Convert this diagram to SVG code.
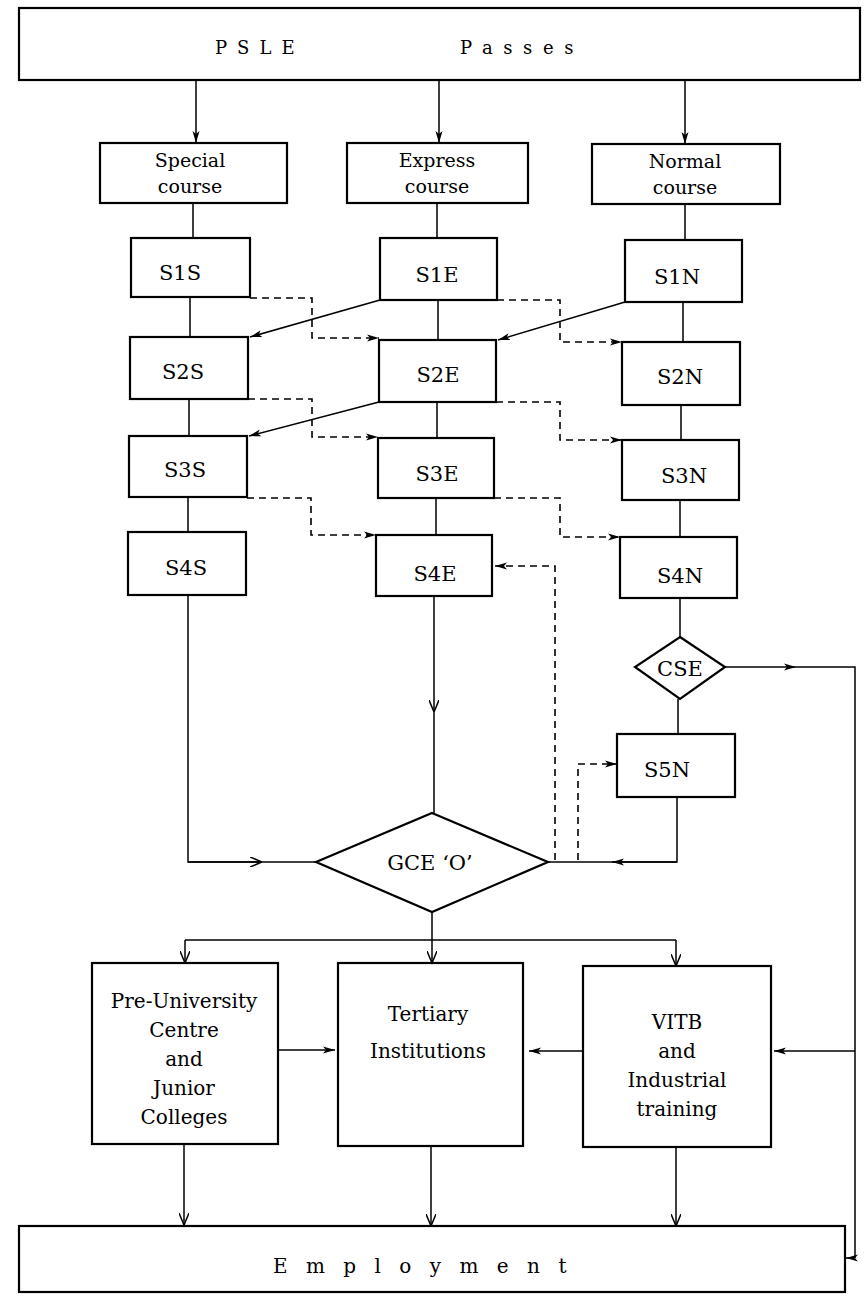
<svg xmlns="http://www.w3.org/2000/svg" width="865" height="1300" viewBox="0 0 865 1300">
<style>
.b{fill:#fff;stroke:#000;stroke-width:2.2}
.t{font-family:"DejaVu Serif","Liberation Serif",serif;font-size:20px;fill:#000;text-anchor:middle}
.s{font-size:21px}
.k{font-size:19px}
.c{fill:none;stroke:#000;stroke-width:1.5}
.d{fill:none;stroke:#000;stroke-width:1.6;stroke-dasharray:7,5}
</style>
<defs>
<marker id="a" viewBox="0 0 12 8" refX="12" refY="4" markerWidth="12" markerHeight="8" orient="auto" markerUnits="userSpaceOnUse"><path d="M0,0.5 L12,4 L0,7.5 L3,4 z" fill="#000"/></marker>
<marker id="v" viewBox="0 0 12 10" refX="12" refY="5" markerWidth="12" markerHeight="10" orient="auto" markerUnits="userSpaceOnUse"><path d="M0,0 L12,5 L0,10" fill="none" stroke="#000" stroke-width="1.5"/></marker>
</defs>
<rect width="865" height="1300" fill="#fff"/>
<g id="connectors">
<path class="c" marker-end="url(#a)" d="M196,80 V143"/>
<path class="c" marker-end="url(#a)" d="M439,80 V143"/>
<path class="c" marker-end="url(#a)" d="M685,80 V144"/>
<path class="c" d="M193,203 V238 M190,297 V337 M189,399 V436 M188,497 V532"/>
<path class="c" d="M437,203 V238 M438,300 V340 M437,402 V438 M436,498 V535"/>
<path class="c" d="M685,204 V240 M683,302 V342 M681,405 V440 M680,500 V537 M680,598 V637 M678,699 V734"/>
<path class="c" marker-end="url(#a)" d="M380,300 L250,337"/>
<path class="c" marker-end="url(#a)" d="M625,302 L498,340"/>
<path class="c" marker-end="url(#a)" d="M379,402 L249,436"/>
<path class="d" marker-end="url(#a)" d="M250,298 H312 V338 H379"/>
<path class="d" marker-end="url(#a)" d="M248,399 H312 V437 H378"/>
<path class="d" marker-end="url(#a)" d="M247,498 H311 V535 H376"/>
<path class="d" marker-end="url(#a)" d="M497,300 H560 V342 H622"/>
<path class="d" marker-end="url(#a)" d="M496,402 H560 V440 H622"/>
<path class="d" marker-end="url(#a)" d="M494,498 H560 V537 H620"/>
<path class="c" marker-end="url(#v)" d="M434,596 V712"/>
<path class="c" d="M434,712 V813"/>
<path class="c" d="M188,595 V862 H262"/>
<path class="c" marker-end="url(#v)" d="M188,862 H262"/>
<path class="c" d="M262,862 H316"/>
<path class="c" d="M677,797 V862 H612"/>
<path class="c" marker-end="url(#a)" d="M677,862 H612"/>
<path class="c" d="M612,862 H548"/>
<path class="d" marker-end="url(#a)" d="M555,860 V566 H495"/>
<path class="d" marker-end="url(#a)" d="M578,860 V764 H617"/>
<path class="c" marker-end="url(#a)" d="M725,667 H796"/>
<path class="c" d="M796,667 H855 V1258"/>
<path class="c" marker-end="url(#a)" d="M855,1258 H846"/>
<path class="c" marker-end="url(#a)" d="M855,1051 H774"/>
<path class="c" d="M432,912 V940 M185,940 H676"/>
<path class="c" marker-end="url(#v)" d="M185,940 V963"/>
<path class="c" marker-end="url(#v)" d="M432,940 V963"/>
<path class="c" marker-end="url(#v)" d="M676,940 V966"/>
<path class="c" marker-end="url(#a)" d="M278,1050 H335"/>
<path class="c" marker-end="url(#a)" d="M583,1051 H529"/>
<path class="c" marker-end="url(#v)" d="M184,1144 V1225"/>
<path class="c" marker-end="url(#v)" d="M431,1146 V1226"/>
<path class="c" marker-end="url(#v)" d="M676,1147 V1226"/>
</g>
<g id="psle"><rect class="b" x="19" y="8" width="841" height="72"/>
<text class="t" style="text-anchor:start;font-size:18px;letter-spacing:10px" x="215" y="54">PSLE</text>
<text class="t" style="text-anchor:start;font-size:18px;letter-spacing:10.6px" x="460" y="54">Passes</text></g>
<g id="special"><rect class="b" x="100" y="143" width="187" height="60"/><text class="t k" x="190" y="167">Special</text><text class="t k" x="190" y="193">course</text></g>
<g id="express"><rect class="b" x="347" y="143" width="181" height="60"/><text class="t k" x="437" y="167">Express</text><text class="t k" x="437" y="193">course</text></g>
<g id="normal"><rect class="b" x="592" y="144" width="188" height="60"/><text class="t k" x="685" y="168">Normal</text><text class="t k" x="685" y="194">course</text></g>
<g id="S1S"><rect class="b" x="131" y="238" width="119" height="59"/><text class="t s" x="180" y="280">S1S</text></g>
<g id="S2S"><rect class="b" x="130" y="337" width="118" height="62"/><text class="t s" x="183" y="379">S2S</text></g>
<g id="S3S"><rect class="b" x="129" y="436" width="118" height="61"/><text class="t s" x="185" y="477">S3S</text></g>
<g id="S4S"><rect class="b" x="128" y="532" width="118" height="63"/><text class="t s" x="186" y="575">S4S</text></g>
<g id="S1E"><rect class="b" x="380" y="238" width="117" height="62"/><text class="t s" x="437" y="282">S1E</text></g>
<g id="S2E"><rect class="b" x="379" y="340" width="117" height="62"/><text class="t s" x="438" y="382">S2E</text></g>
<g id="S3E"><rect class="b" x="378" y="438" width="116" height="60"/><text class="t s" x="437" y="481">S3E</text></g>
<g id="S4E"><rect class="b" x="376" y="535" width="116" height="61"/><text class="t s" x="435" y="581">S4E</text></g>
<g id="S1N"><rect class="b" x="625" y="240" width="117" height="62"/><text class="t s" x="677" y="284">S1N</text></g>
<g id="S2N"><rect class="b" x="622" y="342" width="118" height="63"/><text class="t s" x="680" y="384">S2N</text></g>
<g id="S3N"><rect class="b" x="622" y="440" width="117" height="60"/><text class="t s" x="684" y="483">S3N</text></g>
<g id="S4N"><rect class="b" x="620" y="537" width="117" height="61"/><text class="t s" x="680" y="583">S4N</text></g>
<g id="CSE"><polygon class="b" points="680,637 725,667 680,699 635,667"/><text class="t s" x="680" y="676">CSE</text></g>
<g id="S5N"><rect class="b" x="617" y="734" width="118" height="63"/><text class="t s" x="667" y="777">S5N</text></g>
<g id="GCE"><polygon class="b" points="432,813 548,862 432,912 316,862"/><text class="t s" x="430" y="870">GCE ‘O’</text></g>
<g id="preu"><rect class="b" x="92" y="963" width="186" height="181"/>
<text class="t" x="184" y="1008">Pre-University</text><text class="t" x="184" y="1037">Centre</text><text class="t" x="184" y="1066">and</text><text class="t" x="184" y="1095">Junior</text><text class="t" x="184" y="1124">Colleges</text></g>
<g id="tertiary"><rect class="b" x="338" y="963" width="185" height="183"/>
<text class="t" x="428" y="1021">Tertiary</text><text class="t" x="428" y="1058">Institutions</text></g>
<g id="vitb"><rect class="b" x="583" y="966" width="188" height="181"/>
<text class="t" x="677" y="1029">VITB</text><text class="t" x="677" y="1058">and</text><text class="t" x="677" y="1087">Industrial</text><text class="t" x="677" y="1116">training</text></g>
<g id="employment"><rect class="b" x="19" y="1226" width="826" height="66"/>
<text class="t" style="text-anchor:start;font-size:20px;letter-spacing:18.4px" x="273" y="1273">Employment</text></g>
</svg>
